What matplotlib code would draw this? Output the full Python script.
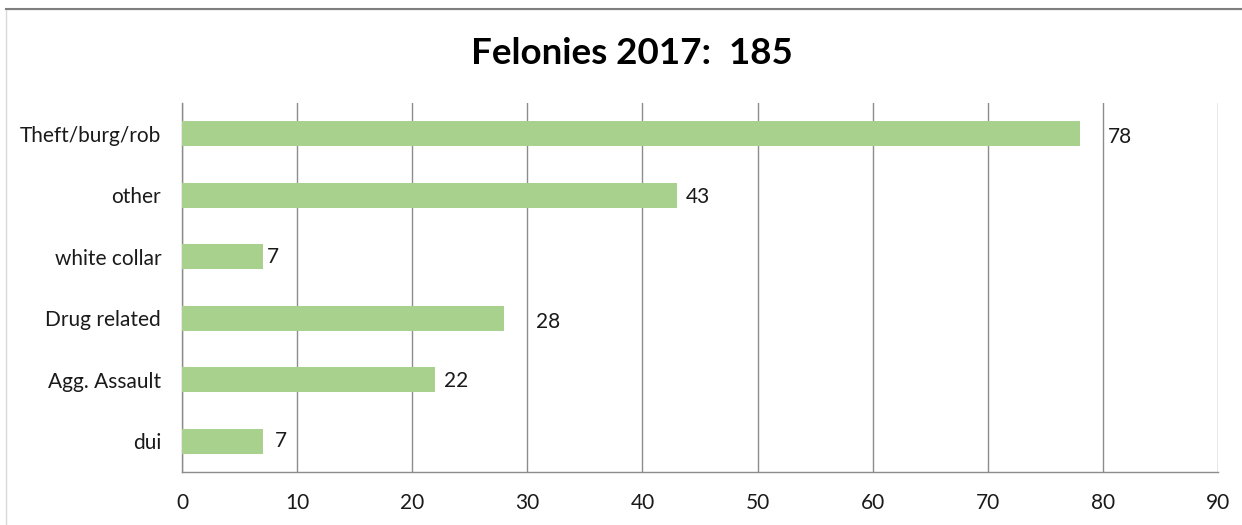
import matplotlib.pyplot as plt
from matplotlib.patches import Rectangle

plt.rcParams["font.family"] = ["Lato", "DejaVu Sans"]

# data (top to bottom as shown)
categories = ["Theft/burg/rob", "other", "white collar", "Drug related", "Agg. Assault", "dui"]
counts = [78, 43, 7, 28, 22, 7]
title = "Felonies 2017:  185"

# label offsets in points (x, y) -- excel placed them unevenly
label_dx = [20, 6, 3, 23, 6, 9]
label_dy = [-2, -1, 0, -3, -1, 0]

BAR = "#a9d18e"
GRID = "#8c8c8c"

fig = plt.figure(figsize=(12.42, 5.25), dpi=100)
# chart frame
fig.patches.append(Rectangle((6 / 1242, -0.1), 1.2, (1 - 9 / 525) + 0.1,
                             transform=fig.transFigure, fill=False,
                             edgecolor="#d9d9d9", linewidth=1.0))
fig.add_artist(plt.Line2D([6 / 1242, 1], [1 - 9 / 525, 1 - 9 / 525],
                          transform=fig.transFigure, color="#7f7f7f", linewidth=1.5))

ax = fig.add_axes([182 / 1242, 1 - 472 / 525, (1218 - 182) / 1242, (472 - 103) / 525])

ypos = list(range(len(categories)))[::-1]
ax.barh(ypos, counts, height=0.41, color=BAR, zorder=3)
ax.set_ylim(-0.5, len(categories) - 0.5)
ax.set_xlim(0, 90)
ax.set_xticks(range(0, 91, 10))
ax.set_yticks(ypos)
ax.set_yticklabels(categories)

ax.grid(True, axis="x", color=GRID, linewidth=1.0, zorder=0)
ax.tick_params(axis="both", length=0, labelsize=15, colors="#1a1a1a")
ax.tick_params(axis="x", pad=15)
ax.tick_params(axis="y", pad=15)
for s in ["top", "right"]:
    ax.spines[s].set_visible(False)
for s in ["left", "bottom"]:
    ax.spines[s].set_color(GRID)
    ax.spines[s].set_linewidth(1.0)

for y, v, dx, dy in zip(ypos, counts, label_dx, label_dy):
    ax.annotate(str(v), (v, y), xytext=(dx, dy), textcoords="offset points",
                ha="left", va="center", fontsize=15, color="#1a1a1a")

fig.text(632 / 1242, 1 - 53 / 525, title, ha="center", va="center",
         fontsize=26.5, fontweight="bold", color="black")

fig.savefig("out.png", dpi=100)
